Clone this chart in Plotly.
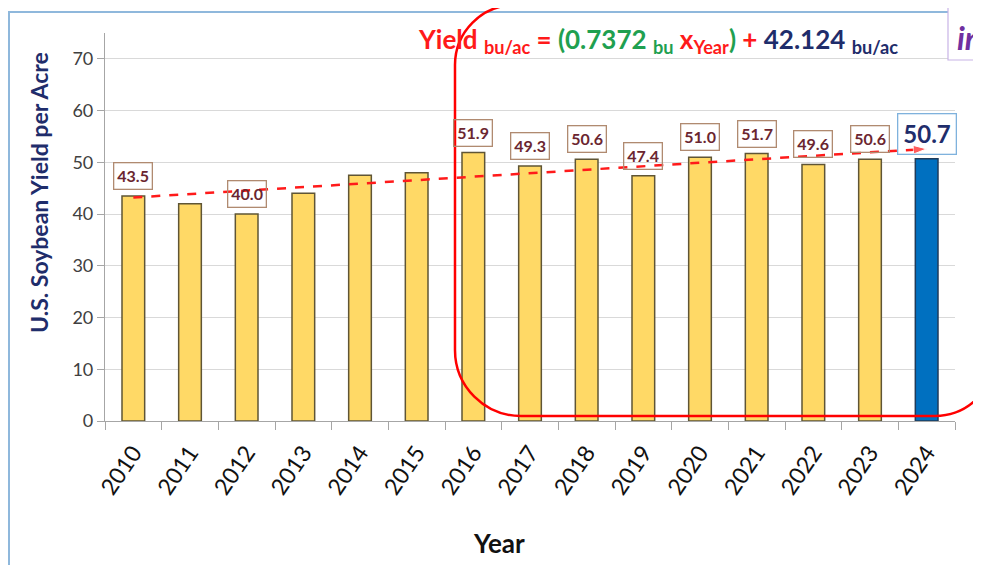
import plotly.graph_objects as go

# data
years = [2010, 2011, 2012, 2013, 2014, 2015, 2016, 2017,
         2018, 2019, 2020, 2021, 2022, 2023, 2024]
yields = [43.5, 42.0, 40.0, 44.0, 47.5, 48.0, 51.9, 49.3,
          50.6, 47.4, 51.0, 51.7, 49.6, 50.6, 50.7]
labelled_years = [2010, 2012, 2016, 2017, 2018, 2019, 2020,
                  2021, 2022, 2023, 2024]
trend_years = [2010, 2024]
trend_values = [43.2, 52.6]

YELLOW = "#ffd966"
BLUE = "#0070c0"
RED = "#ff1a1a"
GREEN = "#1fa050"
NAVY = "#1f2d6b"
FONT = "Lato, Noto Sans, sans-serif"

# the page body adds an 8px offset, so screen pixels are shifted back by it
OFF = 8
# plot area in screen pixels
L, R, T, B = 105, 955, 33, 421


def px(x):
    return (x - L) / (R - L)


def py(y):
    return (B - y) / (B - T)


bar_colors = [BLUE if y == 2024 else YELLOW for y in years]
bar_lines = ["#1f3b5a" if y == 2024 else "#5f5535" for y in years]

fig = go.Figure()

fig.add_trace(go.Bar(
    x=years,
    y=yields,
    width=0.4,
    marker=dict(color=bar_colors, line=dict(color=bar_lines, width=1.5)),
    hovertemplate="%{x}: %{y}<extra></extra>",
    showlegend=False
))

fig.add_trace(go.Scatter(
    x=trend_years,
    y=trend_values,
    mode="lines+markers",
    line=dict(color=RED, width=2.5, dash="dash"),
    marker=dict(symbol="arrow", angleref="previous", size=[0, 14],
                color=RED),
    hoverinfo="skip",
    showlegend=False
))

# value labels in boxes (no fill, so the trend line shows through)
annotations = []
for yr, val in zip(years, yields):
    if yr not in labelled_years:
        continue
    last = yr == 2024
    annotations.append(dict(
        x=yr, y=val, xref="x", yref="y",
        text=f"<b>{val:.1f}</b>",
        showarrow=False,
        yanchor="middle",
        yshift=25 if last else 20,
        font=dict(family=FONT, size=24 if last else 16,
                  color=NAVY if last else "#6b2630"),
        bgcolor="rgba(0,0,0,0)",
        bordercolor="#7fb2dd" if last else "#b08a70",
        borderwidth=1.3,
        borderpad=5 if last else 3
    ))

equation = (
    f"<span style='color:{RED}'>Yield <sub>bu/ac</sub> = </span>"
    f"<span style='color:{GREEN}'>(0.7372 <sub>bu</sub> </span>"
    f"<span style='color:{RED}'>x<sub>Year</sub></span>"
    f"<span style='color:{GREEN}'>)</span>"
    f"<span style='color:{RED}'> + </span>"
    f"<span style='color:{NAVY}'>42.124 <sub>bu/ac</sub></span>"
)
annotations.append(dict(
    x=px(416), y=py(40), xref="paper", yref="paper",
    xanchor="left", yanchor="middle", showarrow=False,
    text=f"<b>{equation}</b>",
    font=dict(family=FONT, size=26)
))

annotations.append(dict(
    x=px(499), y=py(543), xref="paper", yref="paper",
    xanchor="center", yanchor="middle", showarrow=False,
    text="<b>Year</b>",
    font=dict(family=FONT, size=26, color="#111111")
))

annotations.append(dict(
    x=px(39), y=py(193), xref="paper", yref="paper",
    xanchor="center", yanchor="middle", showarrow=False,
    textangle=-90,
    text="<b>U.S. Soybean Yield per Acre</b>",
    font=dict(family=FONT, size=23, color=NAVY)
))

# cut-off side box in the top right corner
annotations.append(dict(
    x=px(955), y=py(38), xref="paper", yref="paper",
    xanchor="left", yanchor="middle", showarrow=False,
    text="<b><i>in</i></b>",
    font=dict(family=FONT, size=32, color="#7030a0")
))

# red rounded highlight box
k = 0.5523
x0, x1, y0, y1 = 455, 995, 5, 416
r_tl, r_tr, r_br, r_bl = 60, 60, 60, 66


def pt(x, y):
    return f"{px(x):.5f},{py(y):.5f}"


path = (
    f"M {pt(x0, y1 - r_bl)} "
    f"L {pt(x0, y0 + r_tl)} "
    f"C {pt(x0, y0 + r_tl * (1 - k))} {pt(x0 + r_tl * (1 - k), y0)} {pt(x0 + r_tl, y0)} "
    f"L {pt(x1 - r_tr, y0)} "
    f"C {pt(x1 - r_tr * (1 - k), y0)} {pt(x1, y0 + r_tr * (1 - k))} {pt(x1, y0 + r_tr)} "
    f"L {pt(x1, y1 - r_br)} "
    f"C {pt(x1, y1 - r_br * (1 - k))} {pt(x1 - r_br * (1 - k), y1)} {pt(x1 - r_br, y1)} "
    f"L {pt(x0 + r_bl, y1)} "
    f"C {pt(x0 + r_bl * (1 - k), y1)} {pt(x0, y1 - r_bl * (1 - k))} {pt(x0, y1 - r_bl)} Z"
)

shapes = [
    # light blue outer frame
    dict(type="rect", xref="paper", yref="paper",
         x0=px(9), x1=px(1000), y0=py(600), y1=py(12),
         line=dict(color="#8fb8dc", width=2), layer="below"),
    dict(type="path", xref="paper", yref="paper", path=path,
         line=dict(color="#ff0000", width=2.5), layer="above"),
    dict(type="rect", xref="paper", yref="paper",
         x0=px(948), x1=px(1000), y0=py(60), y1=py(-5),
         line=dict(color="#c8b4e6", width=1.2), fillcolor="white",
         layer="above"),
]

fig.update_layout(
    width=981,
    height=565,
    margin=dict(l=L - OFF, r=981 - R + OFF, t=T - OFF, b=565 - B + OFF,
                autoexpand=False),
    plot_bgcolor="white",
    paper_bgcolor="white",
    xaxis=dict(
        automargin=False,
        range=[2009.5, 2024.5],
        tickmode="array",
        tickvals=years,
        ticktext=[str(y) for y in years],
        tickangle=-56,
        ticks="",
        ticklabelstandoff=8,
        tickfont=dict(family=FONT, size=23, color="#111111"),
        showline=True,
        linecolor="#a6a6a6",
        linewidth=1.2,
        showgrid=False,
        zeroline=False,
        minor=dict(ticks="outside", ticklen=8, tick0=2009.5, dtick=1,
                   tickcolor="#a6a6a6", showgrid=False),
    ),
    yaxis=dict(
        automargin=False,
        range=[0, 75],
        tickmode="array",
        tickvals=[0, 10, 20, 30, 40, 50, 60, 70],
        ticks="outside",
        ticklen=7,
        tickcolor="#a6a6a6",
        tickfont=dict(family=FONT, size=18, color="#404040"),
        showline=True,
        linecolor="#a6a6a6",
        linewidth=1.2,
        gridcolor="#d9d9d9",
        gridwidth=1,
        zeroline=False,
    ),
    annotations=annotations,
    shapes=shapes,
)

fig.write_html("out.html")
